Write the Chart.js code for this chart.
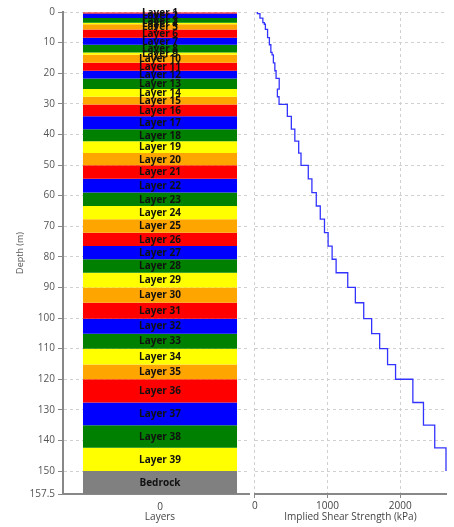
<!DOCTYPE html>
<html>
<head>
<meta charset="utf-8">
<script src="https://cdn.jsdelivr.net/npm/chart.js@4.4.0/dist/chart.umd.min.js"></script>
<style>
    body { margin: 0; background: #fff; width: 454px; height: 527px; overflow: hidden; position: relative; }
    #layerWrap { position: absolute; left: 0; top: 0; width: 257px; height: 527px; }
    #shearWrap { position: absolute; left: 250px; top: 0; width: 204px; height: 527px; background: #fff; }
</style>
</head>
<body>
<div id="layerWrap"><canvas id="layerChart"></canvas></div>
<div id="shearWrap"><canvas id="shearChart"></canvas></div>
<script>
// ===== DATA =====
const layerNames = [
    'Layer 1', 'Layer 2', 'Layer 3', 'Layer 4', 'Layer 5', 'Layer 6', 'Layer 7', 'Layer 8', 'Layer 9', 'Layer 10',
    'Layer 11', 'Layer 12', 'Layer 13', 'Layer 14', 'Layer 15', 'Layer 16', 'Layer 17', 'Layer 18', 'Layer 19', 'Layer 20',
    'Layer 21', 'Layer 22', 'Layer 23', 'Layer 24', 'Layer 25', 'Layer 26', 'Layer 27', 'Layer 28', 'Layer 29', 'Layer 30',
    'Layer 31', 'Layer 32', 'Layer 33', 'Layer 34', 'Layer 35', 'Layer 36', 'Layer 37', 'Layer 38', 'Layer 39', 'Bedrock'
];

// layer boundaries (m), layer i goes from layerDepths[i] to layerDepths[i + 1]
const layerDepths = [
    0, 0.5, 2, 3.5, 4, 5.7, 8.4, 10.7, 13.2, 14,
    16.6, 19.2, 21.7, 25.2, 27.7, 30.2, 34.1, 38.3, 42.2, 46.1,
    50.1, 54.5, 59, 63.4, 67.7, 72.1, 76.5, 80.8, 85.2, 90,
    95, 100.2, 105.1, 110, 115.2, 120, 127.6, 135, 142.4, 150, 157.5
];

// implied shear strength per layer (kPa), layers 1..39
const shearValues = [
    35, 70, 110, 130, 145, 175, 200, 220, 237, 255,
    275, 292, 335, 310, 333, 447, 502, 550, 603, 635,
    735, 785, 845, 900, 958, 1008, 1063, 1118, 1278, 1383,
    1498, 1607, 1717, 1826, 1936, 2174, 2320, 2475, 2630
];

const columnLabels = ['0'];
const depthTicks = [0, 10, 20, 30, 40, 50, 60, 70, 80, 90, 100, 110, 120, 130, 140, 150, 157.5];
const shearTicks = [0, 1000, 2000];

const palette = ['#ff0000', '#0000ff', '#008000', '#ffff00', '#ffa500'];
const bedrockColor = '#808080';

// ===== DEFAULTS =====
Chart.defaults.font.family = '"Open Sans", sans-serif';
Chart.defaults.font.size = 10;
Chart.defaults.color = '#444';
Chart.defaults.animation = false;

const depthMax = layerDepths[layerDepths.length - 1];

// ===== LAYER LABELS =====
const layerLabelPlugin = {
    id: 'layerLabels',
    afterDatasetsDraw(chart) {
        const ctx = chart.ctx;
        ctx.save();
        ctx.font = 'bold 10px "Open Sans", sans-serif';
        ctx.fillStyle = '#111';
        ctx.textAlign = 'center';
        ctx.textBaseline = 'middle';
        chart.data.datasets.forEach((ds, i) => {
            const bar = chart.getDatasetMeta(i).data[0];
            ctx.fillText(ds.label, bar.x, (bar.y + bar.base) / 2 + 0.5);
        });
        ctx.restore();
    }
};

// ===== LEFT: LAYER COLUMN =====
const layerDatasets = layerNames.map((name, i) => ({
    label: name,
    data: [[layerDepths[i], layerDepths[i + 1]]],
    backgroundColor: i === layerNames.length - 1 ? bedrockColor : palette[i % palette.length],
    borderWidth: 0,
    grouped: false,
    barPercentage: 0.794,
    categoryPercentage: 1
}));

new Chart(document.getElementById('layerChart'), {
    type: 'bar',
    data: { labels: columnLabels, datasets: layerDatasets },
    plugins: [layerLabelPlugin],
    options: {
        responsive: true,
        maintainAspectRatio: false,
        layout: { padding: { top: 12, right: 0, bottom: 0, left: 0 } },
        plugins: { legend: { display: false }, tooltip: { enabled: false } },
        scales: {
            x: {
                type: 'category',
                z: 1,
                grid: { display: true, drawOnChartArea: false, drawTicks: false },
                border: { display: true, color: '#888', width: 2 },
                ticks: { display: true, padding: 7, color: '#444', autoSkip: false },
                title: { display: true, text: 'Layers', color: '#444', padding: { top: 2, bottom: 4 } },
                afterFit: scale => { scale.height = 33; }
            },
            y: {
                min: 0,
                max: depthMax,
                reverse: true,
                afterBuildTicks: scale => { scale.ticks = depthTicks.map(v => ({ value: v })); },
                afterFit: scale => { scale.width = 63; },
                grid: { color: '#d0d0d0', tickColor: '#888', tickLength: 5, lineWidth: 1 },
                border: { display: true, color: '#888', width: 2, dash: [3, 3] },
                ticks: { padding: 3, color: '#555' },
                title: { display: true, text: 'Depth (m)', color: '#555', font: { size: 9 }, padding: { top: 15, bottom: 4 } }
            }
        }
    }
});

// ===== RIGHT: SHEAR STRENGTH =====
const shearPoints = [];
shearValues.forEach((v, i) => {
    shearPoints.push({ x: v, y: layerDepths[i] });
    shearPoints.push({ x: v, y: layerDepths[i + 1] });
});

new Chart(document.getElementById('shearChart'), {
    type: 'line',
    data: {
        datasets: [{
            label: 'Implied Shear Strength',
            data: shearPoints,
            borderColor: '#3333ff',
            borderWidth: 1.3,
            pointRadius: 0,
            tension: 0,
            fill: false,
            clip: 3
        }]
    },
    options: {
        responsive: true,
        maintainAspectRatio: false,
        layout: { padding: { top: 12, right: 8, bottom: 0, left: 0 } },
        plugins: { legend: { display: false }, tooltip: { enabled: false } },
        scales: {
            x: {
                type: 'linear',
                min: 0,
                max: Math.max(...shearValues),
                afterBuildTicks: scale => { scale.ticks = shearTicks.map(v => ({ value: v })); },
                afterFit: scale => { scale.height = 33; },
                grid: { color: '#d0d0d0', tickColor: '#888', tickLength: 4 },
                border: { display: true, color: '#888', width: 2, dash: [3, 3] },
                ticks: { padding: 2, color: '#444', callback: v => String(v) },
                title: { display: true, text: 'Implied Shear Strength (kPa)', color: '#444', padding: { top: 2, bottom: 4 } }
            },
            y: {
                type: 'linear',
                min: 0,
                max: depthMax,
                reverse: true,
                afterBuildTicks: scale => { scale.ticks = depthTicks.map(v => ({ value: v })); },
                afterFit: scale => { scale.width = 4; },
                grid: { color: '#d0d0d0', drawTicks: false },
                border: { display: false, dash: [3, 3] },
                ticks: { display: false }
            }
        }
    }
});
</script>
</body>
</html>
